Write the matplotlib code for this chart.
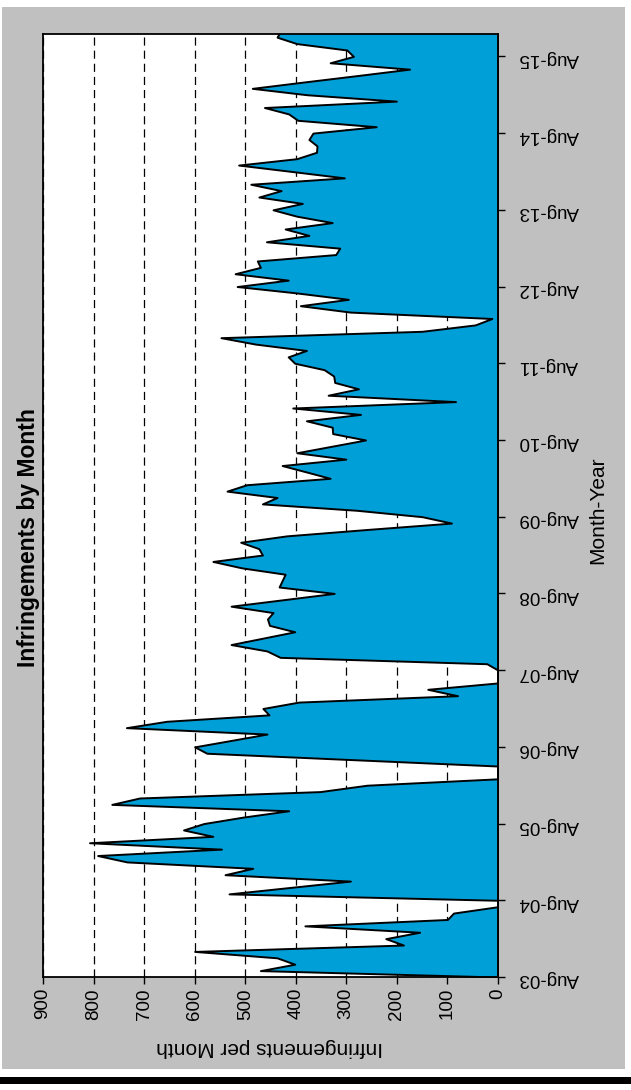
import numpy as np
import matplotlib
matplotlib.use("Agg")
import matplotlib.pyplot as plt
from matplotlib.patches import Rectangle

# ---------------- data ----------------
# monthly infringements, Aug-03 ... Dec-15
infringements = [
    0, 470, 402, 437, 600, 187, 222, 155, 382, 100,      # Aug-03 ..
    88, 0, 0, 532, 412, 292, 540, 485, 734, 792,
    547, 808, 564, 622, 582, 505, 414, 764, 709, 352,
    259, 0, 0, 0, 288, 576, 600, 528, 457, 735,
    655, 453, 465, 394, 80, 139, 0, 0, 0, 22,
    431, 457, 528, 465, 402, 452, 456, 445, 528, 426,
    324, 433, 427, 421, 507, 564, 466, 473, 509, 418,
    259, 92, 150, 279, 466, 437, 536, 497, 332, 379,
    427, 301, 398, 330, 262, 327, 328, 379, 272, 406,
    84, 336, 276, 323, 325, 344, 402, 415, 379, 480,
    548, 150, 45, 12, 292, 391, 296, 398, 516, 415,
    520, 470, 476, 321, 313, 458, 374, 421, 328, 398,
    445, 387, 473, 429, 489, 304, 408, 513, 398, 359,
    358, 374, 366, 241, 396, 414, 462, 201, 378, 486,
    383, 278, 175, 332, 286, 299, 398, 437, 430,
]
tick_labels = ["Aug-03", "Aug-04", "Aug-05", "Aug-06", "Aug-07", "Aug-08", "Aug-09",
               "Aug-10", "Aug-11", "Aug-12", "Aug-13", "Aug-14", "Aug-15"]
value_ticks = [0, 100, 200, 300, 400, 500, 600, 700, 800, 900]

title = "Infringements by Month"
value_title = "Infringements per Month"
date_title = "Month-Year"

# ---------------- figure ----------------
W, H = 631, 1090
plt.rcParams['font.family'] = ['Liberation Sans', 'DejaVu Sans']
fig = plt.figure(figsize=(W / 100, H / 100), dpi=100, facecolor="white")

fig.patches.append(Rectangle((2 / W, 1 - 1069 / H), 623 / W, 1062 / H,
                             transform=fig.transFigure, facecolor="#c0c0c0",
                             edgecolor="none", zorder=-10))
fig.patches.append(Rectangle((0, 1 - 1084 / H), 1, 7 / H,
                             transform=fig.transFigure, facecolor="black",
                             edgecolor="none", zorder=-10))

ax = fig.add_axes([43 / W, 1 - 977 / H, 455 / W, 943 / H])
ax.set_zorder(1)
ax.set_facecolor("white")

months = np.arange(len(infringements))
ax.fill_betweenx(months, infringements, 0, facecolor="#009fd7",
                 edgecolor="black", linewidth=1.4, zorder=2)

ax.set_xlim(900, 0)
ax.set_ylim(0, 147.5)

ax.set_xticks(value_ticks)
ax.set_xticklabels([str(v) for v in value_ticks], rotation=90, fontsize=13.5)
ax.xaxis.grid(True, linestyle=(0, (6.5, 4)), linewidth=0.9, color="black")
ax.yaxis.grid(False)
ax.set_axisbelow(True)

ax.set_yticks(np.arange(0, 12 * len(tick_labels), 12))
ax.set_yticklabels(tick_labels, rotation=180, fontsize=13.5)
ax.yaxis.tick_right()
ax.yaxis.set_label_position("right")

ax.tick_params(axis="x", direction="out", length=5, width=1.0, pad=3)
ax.tick_params(axis="y", direction="out", length=5, width=1.0, pad=10)

for s in ax.spines.values():
    s.set_linewidth(1.3)
    s.set_color("black")
    s.set_zorder(3)

fig.text(29 / W, 1 - 538 / H, title, rotation=90, ha="center", va="center",
         fontsize=16.5, fontweight="bold")
fig.text(270 / W, 1 - 1047 / H, value_title, rotation=180, ha="center",
         va="center", fontsize=15)
fig.text(598 / W, 1 - 510 / H, date_title, rotation=90, ha="center",
         va="center", fontsize=15)

fig.savefig("out.png", dpi=100, facecolor="white")
